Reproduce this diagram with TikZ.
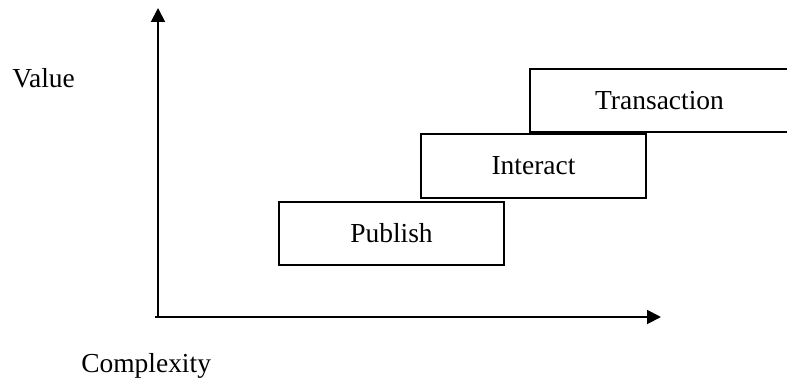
\documentclass[tikz,border=0pt]{standalone}
\usepackage{fontspec}
\setmainfont{Liberation Serif}
\usepackage{tikz}
\usetikzlibrary{positioning}
\usetikzlibrary{arrows.meta}

\begin{document}
\begin{tikzpicture}
			[
				x = 0.75pt, y = -0.75pt,
				font = \fontsize{20.6}{24}\selectfont,
				myblock/.style = {draw, rectangle, line width = 1.3pt, inner sep = 0pt, outer sep = 0pt, minimum height = 47.25pt, minimum width = 168.75pt},
				mylabel/.style = {inner sep = 0pt},
				myarrow/.style = {line width = 1.4pt, -{Triangle[length = 10.5pt, width = 10.5pt]}}
			]
			%
			\useasboundingbox (0,0) rectangle (787,381);
			%
			\coordinate (origin) at (158,317);
			\coordinate (xstart) at (155,317);
			\coordinate (ytop) at (158,8);
			\coordinate (xend) at (661,317);
			\draw [myarrow] (origin) -- (ytop);
			\draw [myarrow] (xstart) -- (xend);
			%
			\node (value) [mylabel, anchor = base west] at (12,88) {Value};
			\node (complexity) [mylabel, anchor = base west] at (81,372) {Complexity};
			%
			\node (publish) [myblock] at (391.5,233.5) {Publish};
			\node (interact) [myblock, minimum height = 48pt] at (533.5,166) {Interact};
			\node (transaction) [myblock, minimum width = 194.25pt] at (659.5,100.5) {Transaction};
			%
		\end{tikzpicture}
\end{document}
